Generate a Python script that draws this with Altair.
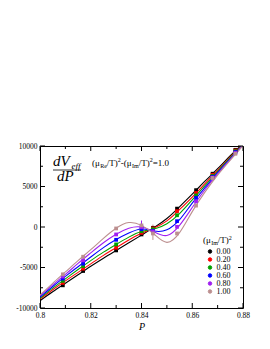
import altair as alt
import pandas as pd

# ---------------- data ----------------
series_labels = ["0.00", "0.20", "0.40", "0.60", "0.80", "1.00"]
series_colors = ["#000000", "#ff0000", "#00a000", "#0000ff", "#a020f0", "#bc8f8f"]

P_points = [0.809, 0.817, 0.830, 0.840, 0.8445, 0.854, 0.8615, 0.868, 0.877]
pts_000 = [-7200, -5430, -2890, -920, -100, 2270, 4550, 6580, 9530]
pts_020 = [-6900, -5150, -2560, -720, -170, 1950, 4200, 6450, 9450]
pts_040 = [-6650, -4820, -2150, -520, -280, 1450, 3900, 6300, 9350]
pts_060 = [-6370, -4530, -1580, -260, -470, 720, 3590, 6200, 9250]
pts_080 = [-6120, -4120, -920, -30, -550, 20, 3170, 6100, 9150]
pts_100 = [-5840, -3670, -180, 200, -800, -800, 2640, 6050, 9040]

P_curve = [0.800, 0.805, 0.810, 0.815, 0.820, 0.825, 0.830, 0.835, 0.840,
           0.845, 0.850, 0.855, 0.860, 0.865, 0.870, 0.875, 0.880]
crv_000 = [-9100, -8000, -6950, -5900, -4850, -3850, -2900, -1950, -1000,
           -50, 1050, 2500, 4050, 5650, 7200, 8800, 10300]
crv_020 = [-8900, -7750, -6650, -5600, -4550, -3500, -2550, -1600, -780,
           -120, 750, 2150, 3700, 5350, 7000, 8650, 10250]
crv_040 = [-8800, -7550, -6400, -5250, -4150, -3100, -2150, -1250, -550,
           -250, 400, 1650, 3350, 5100, 6850, 8550, 10200]
crv_060 = [-8650, -7350, -6100, -4900, -3700, -2550, -1550, -750, -250,
           -500, -350, 900, 2950, 4850, 6700, 8450, 10150]
crv_080 = [-8500, -7150, -5850, -4500, -3200, -1950, -900, -150, 0,
           -600, -1050, 200, 2400, 4600, 6550, 8350, 10100]
crv_100 = [-8400, -6950, -5550, -4150, -2800, -1400, -150, 550, 200,
           -900, -1900, -700, 1900, 4300, 6400, 8250, 10050]

# error bars (P, series, low, high)
err_P = [0.840, 0.840, 0.8445]
err_mu = ["0.60", "0.80", "1.00"]
err_lo = [-700, -1100, -1600]
err_hi = [200, 800, 300]

x_major = [0.80, 0.82, 0.84, 0.86, 0.88]
x_minor = [0.81, 0.83, 0.85, 0.87]
y_major = [-10000, -5000, 0, 5000, 10000]
y_minor = [-7500, -2500, 2500, 7500]

# ---------------- tables ----------------
pts_all = [pts_000, pts_020, pts_040, pts_060, pts_080, pts_100]
crv_all = [crv_000, crv_020, crv_040, crv_060, crv_080, crv_100]
pts_df = pd.DataFrame([{"P": p, "V": v, "mu": lab}
                       for lab, vals in zip(series_labels, pts_all)
                       for p, v in zip(P_points, vals)])
crv_df = pd.DataFrame([{"P": p, "V": v, "mu": lab}
                       for lab, vals in zip(series_labels, crv_all)
                       for p, v in zip(P_curve, vals)])
err_df = pd.DataFrame({"P": err_P, "mu": err_mu, "lo": err_lo, "hi": err_hi})

W, H = 203, 162
FONT = "Liberation Serif"

xscale = alt.Scale(domain=[0.8, 0.88], nice=False, zero=False)
yscale = alt.Scale(domain=[-10000, 10000], nice=False, zero=False)
cscale = alt.Scale(domain=series_labels, range=series_colors)

xaxis = alt.Axis(values=x_major, format=".2~f", ticks=False, domain=False, grid=False,
                 labelFont=FONT, labelFontSize=7.5, labelColor="black", labelPadding=3.5,
                 labelFlush=False, labelOverlap=False,
                 title="P", titleFont=FONT, titleFontStyle="italic", titleFontSize=10,
                 titleFontWeight="normal", titleColor="black", titlePadding=2)
yaxis = alt.Axis(values=y_major, labelExpr="'' + datum.value", ticks=False, domain=False,
                 grid=False, labelFont=FONT, labelFontSize=7.5, labelColor="black",
                 labelPadding=3, labelFlush=False, labelOverlap=False, title=None)
legend = alt.Legend(title=None, orient="none", legendX=166, legendY=101.5,
                    symbolType="circle", symbolSize=12, symbolStrokeWidth=1,
                    labelFont=FONT, labelFontSize=8, labelColor="black",
                    rowPadding=0, labelOffset=2.5, padding=0)

X = lambda f: alt.X(f, scale=xscale, axis=xaxis, title="P")
Y = lambda f: alt.Y(f, scale=yscale, axis=yaxis, title=None)
C = alt.Color("mu:N", scale=cscale, legend=legend)

curves = alt.Chart(crv_df).mark_line(interpolate="natural", strokeWidth=1.1, clip=True).encode(
    x=X("P:Q"), y=Y("V:Q"), color=C, detail="mu:N",
)

errs = alt.Chart(err_df).mark_rule(strokeWidth=1).encode(
    x=X("P:Q"), y=Y("lo:Q"), y2="hi:Q", color=C,
)

points = alt.Chart(pts_df).mark_point(shape="square", filled=True, size=14, opacity=1).encode(
    x=X("P:Q"), y=Y("V:Q"), color=C,
)

# inner ticks
def xticks(vals, length):
    d = pd.DataFrame({"P": vals})
    bot = alt.Chart(d).mark_rule(color="black", strokeWidth=1).encode(
        x=X("P:Q"), y=alt.value(H), y2=alt.value(H - length))
    top = alt.Chart(d).mark_rule(color="black", strokeWidth=1).encode(
        x=X("P:Q"), y=alt.value(0), y2=alt.value(length))
    return [bot, top]

def yticks(vals, length):
    d = pd.DataFrame({"V": vals})
    lef = alt.Chart(d).mark_rule(color="black", strokeWidth=1).encode(
        y=Y("V:Q"), x=alt.value(0), x2=alt.value(length))
    rig = alt.Chart(d).mark_rule(color="black", strokeWidth=1).encode(
        y=Y("V:Q"), x=alt.value(W), x2=alt.value(W - length))
    return [lef, rig]

tick_layers = xticks(x_major, 5) + xticks(x_minor, 3) + yticks(y_major, 5) + yticks(y_minor, 3)

one = alt.Data(values=[{"a": 1}])

def txt(s, x, y, size, italic=False):
    return alt.Chart(one).mark_text(
        align="left", baseline="alphabetic", font=FONT, fontSize=size,
        fontStyle="italic" if italic else "normal", color="black"
    ).encode(x=alt.value(x), y=alt.value(y), text=alt.value(s))

# approximate Times advance widths (em)
WID = {"(": .333, ")": .333, "/": .278, "T": .611, "μ": .576, "R": .667, "e": .444,
       "I": .333, "m": .778, "2": .5, "-": .333, "=": .564, "1": .5, ".": .25, "0": .5}

def run(pieces, x0, base):
    out = []
    x = x0
    for s, size, dy in pieces:
        out.append(txt(s, x, base + dy, size))
        x += sum(WID.get(c, .5) for c in s) * size
    return out

ann = []
ann.append(txt("dV", 13, 20, 15, True))
ann.append(txt("eff", 31.5, 22.5, 9, True))
ann.append(alt.Chart(one).mark_rule(color="black", strokeWidth=0.8).encode(
    x=alt.value(13), x2=alt.value(41), y=alt.value(24), y2=alt.value(24)))
ann.append(txt("dP", 17, 34.5, 15, True))

ann += run([("(μ", 9, 0), ("Re", 6, 2), ("/T)", 9, 0), ("2", 6, -3.5),
            ("-(μ", 9, 0), ("Im", 6, 2), ("/T)", 9, 0), ("2", 6, -3.5),
            ("=1.0", 9, 0)], 52, 19.5)
ann += run([("(μ", 9, 0), ("Im", 6, 2), ("/T)", 9, 0), ("2", 6, -3.5)], 163, 97)

chart = alt.layer(curves, errs, points, *tick_layers, *ann).properties(
    width=W, height=H,
    padding={"left": 32, "top": 138, "right": 19, "bottom": 33},
    autosize=alt.AutoSizeParams(type="none"),
    background="white",
).configure_view(stroke="black", strokeWidth=1)

chart.save("out.html", embed_options={"renderer": "svg", "actions": False})
